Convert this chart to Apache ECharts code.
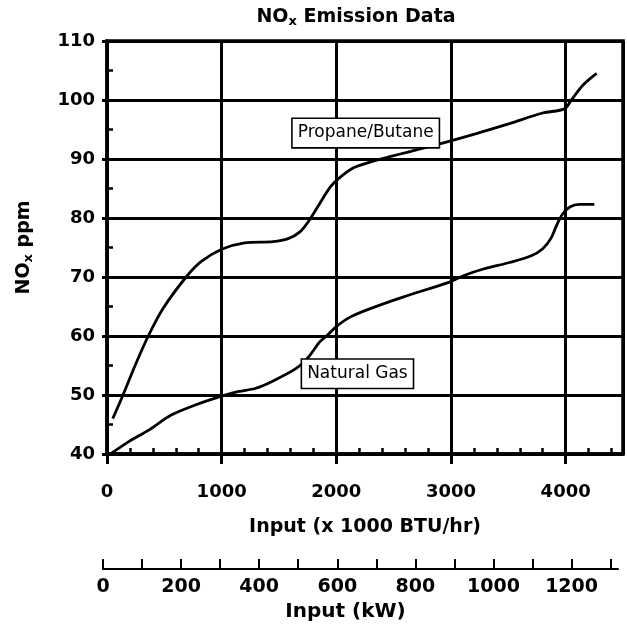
<!DOCTYPE html>
<html><head><meta charset="utf-8">
<script src="https://cdn.jsdelivr.net/npm/echarts@6/dist/echarts.min.js"></script>
<style>html,body{margin:0;padding:0;background:#fff}#c{width:627px;height:636px}</style>
</head><body><div id="c"></div>
<script>
// ---- data ----
const propaneX = [50,140,245,360,490,690,820,1000,1200,1450,1580,1680,1760,1850,1950,2040,2150,2300,2450,2650,2910,3220,3510,3800,3990,4050,4150,4270];
const propaneY = [46,50,55,60,64.7,70,72.6,74.7,75.8,76,76.5,77.6,79.5,82.3,85.3,87,88.5,89.5,90.3,91.3,92.6,94.3,96,97.8,98.5,100,102.5,104.5];
const gasX = [30,190,360,560,770,1000,1150,1290,1440,1650,1760,1855,1915,2000,2120,2290,2580,2980,3120,3290,3520,3700,3800,3870,3920,3970,4040,4120,4250];
const gasY = [40,42.1,44,46.6,48.3,49.8,50.6,51.1,52.3,54.5,56.5,59,60,61.6,63.2,64.6,66.6,69.1,70.3,71.4,72.5,73.6,74.8,76.5,78.7,80.6,81.9,82.3,82.3];
const seriesNames = ['Propane/Butane', 'Natural Gas'];
const labelX = [2256, 2184];
const labelY = [94.4, 53.6];
const btuRange = [0, 4500], btuStep = 1000, btuMinorStep = 200, btuLabelMax = 4000;
const ppmRange = [40, 110], ppmStep = 10, ppmMinorStep = 5;
const BTU_PER_KW = 3.412, kwStep = 100, kwLabelStep = 200, kwLabelMax = 1200;

const FONT = 'DejaVu Sans';
const zip = (xs, ys) => xs.map((x, i) => [x, ys[i]]);

const chart = echarts.init(document.getElementById('c'), null, {renderer: 'canvas'});
chart.setOption({
  animation: false,
  backgroundColor: '#fff',
  title: {
    text: '{a|NO}{s|x}{a| Emission Data}',
    left: 351, top: 2, textAlign: 'center',
    textStyle: {
      rich: {
        a: {fontFamily: FONT, fontWeight: 'bold', fontSize: 19, color: '#000'},
        s: {fontFamily: FONT, fontWeight: 'bold', fontSize: 13, color: '#000', padding: [8, 0, 0, 0]}
      }
    }
  },
  grid: [
    {left: 107, right: 4, top: 41, bottom: 182, show: true, borderColor: '#000', borderWidth: 3.5, backgroundColor: 'transparent'},
    {left: 103, right: 9, top: 568, height: 1, show: false}
  ],
  xAxis: [
    {
      type: 'value', gridIndex: 0, position: 'bottom', min: btuRange[0], max: btuRange[1], interval: btuStep,
      axisLine: {show: true, lineStyle: {color: '#000', width: 3.5}},
      axisTick: {show: true, inside: false, length: 10, lineStyle: {color: '#000', width: 3}},
      splitLine: {show: true, lineStyle: {color: '#000', width: 3}},
      axisLabel: {
        margin: 29, fontFamily: FONT, fontWeight: 'bold', fontSize: 18, color: '#000', showMaxLabel: false,
        formatter: v => (v % btuStep === 0 && v <= btuLabelMax) ? String(v) : ''
      },
      name: 'Input (x 1000 BTU/hr)', nameLocation: 'middle', nameGap: 64,
      nameTextStyle: {fontFamily: FONT, fontWeight: 'bold', fontSize: 19, color: '#000'}
    },
    {
      type: 'value', gridIndex: 0, position: 'bottom', min: btuRange[0], max: btuRange[1], interval: btuMinorStep,
      axisLine: {show: false}, axisLabel: {show: false}, splitLine: {show: false},
      axisTick: {show: true, inside: true, length: 6, lineStyle: {color: '#000', width: 2.5}}
    },
    {
      type: 'value', gridIndex: 1, position: 'bottom', min: 0, max: btuRange[1] / BTU_PER_KW, interval: kwStep,
      axisLine: {show: true, lineStyle: {color: '#000', width: 2}},
      axisTick: {show: true, inside: true, length: 10, lineStyle: {color: '#000', width: 2}},
      splitLine: {show: false},
      axisLabel: {
        margin: 9, fontFamily: FONT, fontWeight: 'bold', fontSize: 19, color: '#000', showMaxLabel: false,
        formatter: v => (Math.abs(v % kwLabelStep) < 1e-6 && v <= kwLabelMax) ? String(v) : ''
      },
      name: 'Input (kW)', nameLocation: 'middle', nameGap: 33,
      nameTextStyle: {fontFamily: FONT, fontWeight: 'bold', fontSize: 20, color: '#000', padding: [0, 30, 0, 0]}
    }
  ],
  yAxis: [
    {
      type: 'value', gridIndex: 0, position: 'left', min: ppmRange[0], max: ppmRange[1], interval: ppmStep,
      axisLine: {show: true, lineStyle: {color: '#000', width: 3.5}},
      axisTick: {show: true, inside: false, length: 5, lineStyle: {color: '#000', width: 3}},
      splitLine: {show: true, lineStyle: {color: '#000', width: 3}},
      axisLabel: {margin: 12, fontFamily: FONT, fontWeight: 'bold', fontSize: 18, color: '#000'},
      name: '{a|NO}{s|x}{a| ppm}', nameLocation: 'middle', nameGap: 72, nameRotate: 90,
      nameTextStyle: {
        rich: {
          a: {fontFamily: FONT, fontWeight: 'bold', fontSize: 19, color: '#000'},
          s: {fontFamily: FONT, fontWeight: 'bold', fontSize: 13, color: '#000', padding: [8, 0, 0, 0]}
        }
      }
    },
    {
      type: 'value', gridIndex: 0, position: 'left', min: ppmRange[0], max: ppmRange[1], interval: ppmMinorStep,
      axisLine: {show: false}, axisLabel: {show: false}, splitLine: {show: false},
      axisTick: {show: true, inside: true, length: 6, lineStyle: {color: '#000', width: 2.5}}
    },
    {type: 'value', gridIndex: 1, min: 0, max: 1, show: false}
  ],
  series: [
    {
      name: seriesNames[0], type: 'line', xAxisIndex: 0, yAxisIndex: 0,
      data: zip(propaneX, propaneY), smooth: 0.3, showSymbol: false, z: 3,
      lineStyle: {color: '#000', width: 2.8}
    },
    {
      name: seriesNames[1], type: 'line', xAxisIndex: 0, yAxisIndex: 0,
      data: zip(gasX, gasY), smooth: 0.3, showSymbol: false, z: 3,
      lineStyle: {color: '#000', width: 2.8}
    },
    {
      type: 'scatter', xAxisIndex: 0, yAxisIndex: 0, z: 10, symbolSize: 2,
      itemStyle: {color: 'rgba(0,0,0,0)'},
      data: seriesNames.map((n, i) => ({name: n, value: [labelX[i], labelY[i]]})),
      label: {
        show: true, position: 'inside', formatter: p => p.name,
        fontFamily: FONT, fontSize: 17, color: '#000', textBorderWidth: 0, opacity: 1,
        backgroundColor: '#fff', borderColor: '#000', borderWidth: 1.6, padding: [6, 5, 5, 5]
      },
      emphasis: {disabled: true}, silent: true
    },
    {type: 'line', xAxisIndex: 2, yAxisIndex: 2, data: [], silent: true}
  ]
});
</script></body></html>
